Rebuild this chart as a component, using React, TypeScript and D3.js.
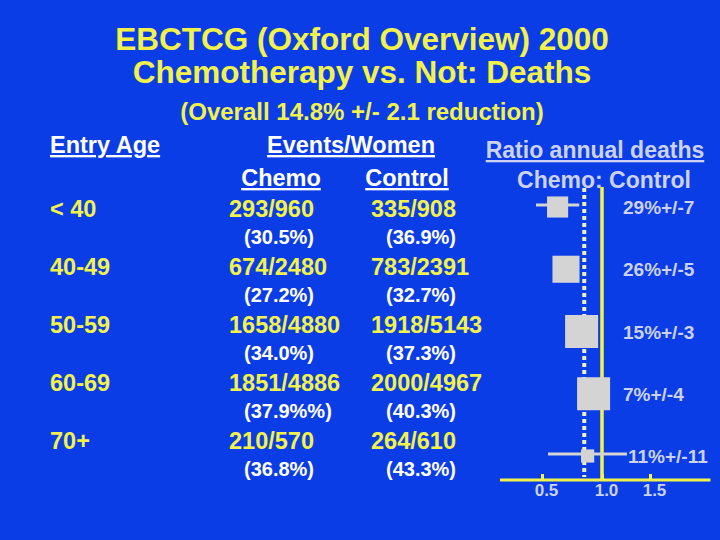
import { useEffect, useRef } from 'react'
import * as d3 from 'd3'

const ages = ['< 40', '40-49', '50-59', '60-69', '70+']
const chemoCounts = ['293/960', '674/2480', '1658/4880', '1851/4886', '210/570']
const controlCounts = ['335/908', '783/2391', '1918/5143', '2000/4967', '264/610']
const chemoPct = ['(30.5%)', '(27.2%)', '(34.0%)', '(37.9%%)', '(36.8%)']
const controlPct = ['(36.9%)', '(32.7%)', '(37.3%)', '(40.3%)', '(43.3%)']

// ratio of annual death rates, chemo : control
const ratio = [0.63, 0.70, 0.83, 0.93, 0.88]
const ciLow = [0.45, 0.62, 0.75, 0.86, 0.55]
const ciHigh = [0.81, 0.79, 0.91, 1.0, 1.26]
const weight = [0.64, 0.82, 1, 1, 0.4]
const reductions = ['29%+/-7', '26%+/-5', '15%+/-3', '7%+/-4', '11%+/-11']
const overallRatio = 0.852
const axisTicks = [0.5, 1.0, 1.5]
const axisExtent = [0.15, 2.13]

const BG = '#0b3de6'
const YELLOW = '#f2f24a'
const WHITE = '#ffffff'
const LAV = '#ccd2f2'
const BOX = '#d4d4d4'
const DOT = '#eef0b0'
const FONT = '"Liberation Sans", Arial, sans-serif'

export default function App() {
  const axisRef = useRef<SVGGElement>(null)

  // slightly uneven axis, as drawn on the slide
  const x = d3.scaleLinear().domain([0.5, 1, 1.5]).range([542, 602, 650])
  const rowY = d3.scalePoint<string>().domain(ages).range([217, 449])
  const forestY = d3.scalePoint<string>().domain(ages).range([207, 456])
  const side = d3.scaleLinear().domain([0, 1]).range([0, 33])
  const plotTop = 187
  const axisY = 480

  useEffect(() => {
    document.body.style.margin = '0'
    if (!axisRef.current) return
    const g = d3.select(axisRef.current)
    g.selectAll('*').remove()
    g.call(
      d3.axisBottom(x)
        .tickValues(axisTicks)
        .tickFormat(d3.format('.1f'))
        .tickSizeInner(-6)
        .tickSizeOuter(0)
        .tickPadding(4)
    )
    g.select('.domain').remove()
    g.selectAll('.tick line').attr('stroke', YELLOW).attr('stroke-width', 3)
    g.selectAll('.tick text')
      .attr('fill', LAV)
      .attr('dx', 4)
      .style('font-family', FONT)
      .style('font-size', '17px')
      .style('font-weight', 'bold')
  }, [])

  const bold = { fontFamily: FONT, fontWeight: 'bold' as const }
  const under = { textDecoration: 'underline' }

  return (
    <svg width={720} height={540} style={{ display: 'block', background: BG }}>
      <rect width={720} height={540} fill={BG} />

      <g style={bold} fill={YELLOW} textAnchor="middle">
        <text x={362} y={50} fontSize={31.5}>EBCTCG (Oxford Overview) 2000</text>
        <text x={362} y={83} fontSize={31.5}>Chemotherapy vs. Not: Deaths</text>
        <text x={362} y={120} fontSize={24}>(Overall 14.8% +/- 2.1 reduction)</text>
      </g>

      <g style={bold} fill={WHITE} fontSize={23.5}>
        <text x={50} y={153} style={under}>Entry Age</text>
        <text x={351} y={153} textAnchor="middle" style={under}>Events/Women</text>
        <text x={281} y={186} textAnchor="middle" style={under}>Chemo</text>
        <text x={407} y={186} textAnchor="middle" style={under}>Control</text>
      </g>
      <g style={bold} fill={LAV} fontSize={23} textAnchor="middle">
        <text x={595} y={158} style={under}>Ratio annual deaths</text>
        <text x={604} y={188}>Chemo: Control</text>
      </g>

      {ages.map((a, i) => {
        const y = rowY(a)!
        return (
          <g key={a} style={bold}>
            <text x={50} y={y} fill={YELLOW} fontSize={23.5}>{a}</text>
            <text x={229} y={y} fill={YELLOW} fontSize={23.5}>{chemoCounts[i]}</text>
            <text x={371} y={y} fill={YELLOW} fontSize={23.5}>{controlCounts[i]}</text>
            <text x={244} y={y + 27} fill={WHITE} fontSize={20}>{chemoPct[i]}</text>
            <text x={386} y={y + 27} fill={WHITE} fontSize={20}>{controlPct[i]}</text>
          </g>
        )
      })}

      {/* forest plot */}
      <line x1={x(overallRatio)} x2={x(overallRatio)} y1={plotTop + 1} y2={axisY - 3}
        stroke={DOT} strokeWidth={4} strokeDasharray="4 3" />
      <line x1={x(1)} x2={x(1)} y1={plotTop} y2={axisY} stroke={YELLOW} strokeWidth={3.5} />
      <line x1={x(axisExtent[0])} x2={x(axisExtent[1])} y1={axisY} y2={axisY}
        stroke={YELLOW} strokeWidth={3} />
      <g ref={axisRef} transform={`translate(0,${axisY})`} />

      {ages.map((a, i) => {
        const y = forestY(a)!
        const s = side(weight[i])
        const cx = x(ratio[i])
        return (
          <g key={a}>
            <line x1={x(ciLow[i])} x2={x(ciHigh[i])} y1={y - 2} y2={y - 2} stroke={BOX} strokeWidth={3} />
            <rect x={cx - s / 2} y={y - s / 2} width={s} height={s} fill={BOX} />
            <text x={Math.max(623, x(ciHigh[i]) + 1)} y={y + 7} fill={LAV} fontSize={19} style={bold}>
              {reductions[i]}
            </text>
          </g>
        )
      })}
    </svg>
  )
}
